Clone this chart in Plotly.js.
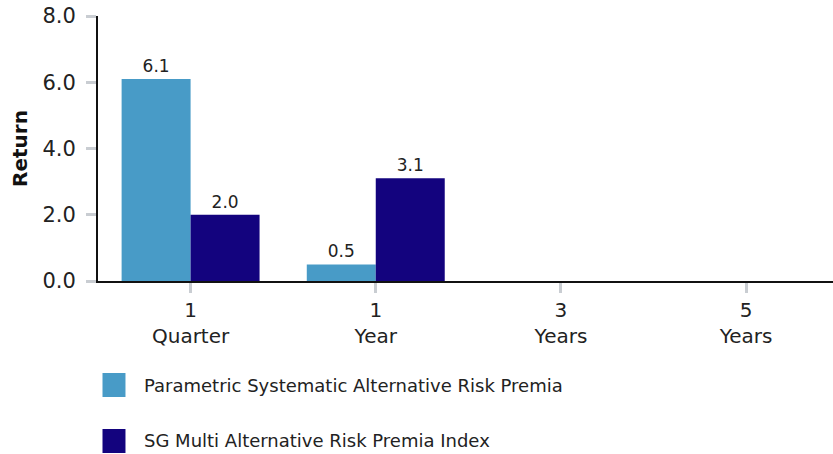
<!DOCTYPE html>
<html>
<head>
<meta charset="utf-8">
<script src="https://cdn.plot.ly/plotly-3.0.1.min.js"></script>
<style>
html,body{margin:0;padding:0;background:#fff;}
#chart{width:833px;height:454px;}
</style>
</head>
<body>
<div id="chart"></div>
<script>
// ---- data ----
var categories = ["1<br>Quarter", "1<br>Year", "3<br>Years", "5<br>Years"];
var seriesNames = ["Parametric Systematic Alternative Risk Premia", "SG Multi Alternative Risk Premia Index"];
var parametricValues = [6.1, 0.5, null, null];
var sgValues = [2.0, 3.1, null, null];
var yTickVals = [0, 2, 4, 6, 8];
var yTickText = ["0.0", "2.0", "4.0", "6.0", "8.0"];
var colors = ["#489bc7", "#13037e"];

var FONT = "DejaVu Sans, sans-serif";
var W = 833, H = 454;
var mL = 97.5, mT = 16, mB = 173, mR = 0;
var plotW = W - mL - mR, plotH = H - mT - mB;
var catW = 185.3;

function fmt(v){ return v === null ? "" : v.toFixed(1); }

var traces = [
  {type: "bar", x: categories, y: parametricValues, name: seriesNames[0],
   marker: {color: colors[0]}, text: parametricValues.map(fmt),
   textposition: "outside", cliponaxis: false,
   textfont: {family: FONT, size: 17, color: "#222"}, showlegend: false, hoverinfo: "none"},
  {type: "bar", x: categories, y: sgValues, name: seriesNames[1],
   marker: {color: colors[1]}, text: sgValues.map(fmt),
   textposition: "outside", cliponaxis: false,
   textfont: {family: FONT, size: 17, color: "#222"}, showlegend: false, hoverinfo: "none"}
];

// custom legend (pixel helpers -> paper coords)
function px2x(px){ return (px - mL) / plotW; }
function py2y(py){ return (H - mB - py) / plotH; }
var shapes = [], annotations = [];
var legendRows = [385, 441];
for (var i = 0; i < seriesNames.length; i++) {
  var cy = legendRows[i];
  shapes.push({type: "rect", xref: "paper", yref: "paper",
    x0: px2x(102), x1: px2x(125), y0: py2y(cy - 12), y1: py2y(cy + 12),
    fillcolor: colors[i], line: {width: 0}});
  annotations.push({xref: "paper", yref: "paper", x: px2x(142), y: py2y(cy),
    xanchor: "left", yanchor: "middle", showarrow: false, text: seriesNames[i],
    font: {family: FONT, size: 18, color: "#222"}});
}

var layout = {
  width: W, height: H,
  margin: {l: mL, r: mR, t: mT, b: mB, pad: 0},
  paper_bgcolor: "#fff", plot_bgcolor: "#fff",
  barmode: "group", bargap: 0.255, bargroupgap: 0,
  font: {family: FONT, color: "#222"},
  showlegend: false,
  xaxis: {
    type: "category", range: [-0.5, -0.5 + plotW / catW], automargin: false,
    showline: true, linecolor: "#111", linewidth: 2,
    ticks: "outside", ticklen: 10, tickwidth: 3, tickcolor: "#c9cdd2",
    tickfont: {family: FONT, size: 20, color: "#222"},
    ticklabelstandoff: 0,
    showgrid: false, zeroline: false, fixedrange: true
  },
  yaxis: {
    range: [0, 8], automargin: false,
    tickvals: yTickVals, ticktext: yTickText,
    showline: true, linecolor: "#111", linewidth: 2,
    ticks: "outside", ticklen: 10, tickwidth: 3, tickcolor: "#c9cdd2",
    tickfont: {family: FONT, size: 21, color: "#222"},
    ticklabelstandoff: 6,
    showgrid: false, zeroline: false, fixedrange: true,
    title: {text: "<b>Return</b>", font: {family: FONT, size: 20, color: "#111"}, standoff: 9}
  },
  shapes: shapes,
  annotations: annotations
};

Plotly.newPlot("chart", traces, layout, {staticPlot: true, displayModeBar: false});
</script>
</body>
</html>
